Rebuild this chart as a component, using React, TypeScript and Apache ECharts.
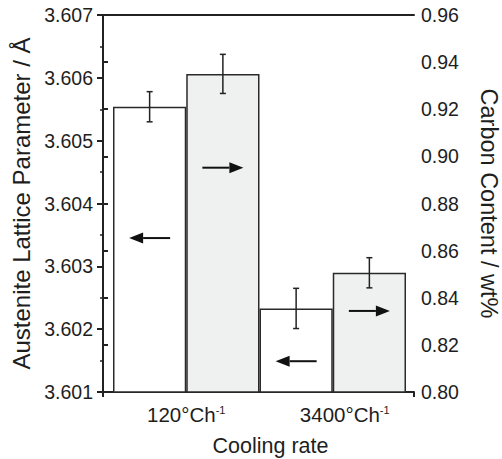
import React, { useEffect, useRef } from "react";
import * as echarts from "echarts";

// ---- data ----
const categories = ["120°Ch", "3400°Ch"];
const barSlots = ["120 lattice", "120 carbon", "3400 lattice", "3400 carbon"];
const latticeValues = [3.60554, 3.60233];
const latticeErrors = [0.00024, 0.00032];
const carbonValues = [0.935, 0.8506];
const carbonErrors = [0.0083, 0.0064];
const leftRange = [3.601, 3.607];
const leftInterval = 0.001;
const rightRange = [0.8, 0.96];
const rightInterval = 0.02;
// arrows: slot index, level (left-axis units), direction (-1 = left axis, 1 = right axis)
const arrowSlots = [0, 1, 2, 3];
const arrowLevels = [3.60345, 3.60457, 3.60149, 3.60229];
const arrowDirs = [-1, 1, -1, 1];

const FONT = "'Liberation Sans', Arial, Helvetica, sans-serif";
const TXT = "#1e1e1e";
const LINE = "#222";

export default function App() {
  const ref = useRef<HTMLDivElement>(null);
  useEffect(() => {
    if (!ref.current) return;
    const chart = echarts.init(ref.current, undefined, { renderer: "svg" });

    const latticeBar = barSlots.map((_, i) => (i % 2 === 0 ? latticeValues[i / 2] : "-"));
    const carbonBar = barSlots.map((_, i) => (i % 2 === 1 ? carbonValues[(i - 1) / 2] : "-"));

    const errorRender = (params: any, api: any) => {
      const x = api.value(0);
      const v = api.value(1);
      const e = api.value(2);
      const top = api.coord([x, v + e]);
      const bot = api.coord([x, v - e]);
      const w = 3;
      const st = { stroke: LINE, lineWidth: 1.5 };
      return {
        type: "group",
        children: [
          { type: "line", shape: { x1: top[0], y1: top[1], x2: bot[0], y2: bot[1] }, style: st },
          { type: "line", shape: { x1: top[0] - w, y1: top[1], x2: top[0] + w, y2: top[1] }, style: st },
          { type: "line", shape: { x1: bot[0] - w, y1: bot[1], x2: bot[0] + w, y2: bot[1] }, style: st },
        ],
      };
    };

    const arrowRender = (params: any, api: any) => {
      const slot = api.value(0);
      const level = api.value(1);
      const dir = api.value(2);
      const c = api.coord([slot, level]);
      const band = api.size([1, 0])[0];
      const half = (band * 0.56) / 2;
      const tip = c[0] + dir * half;
      const tail = c[0] - dir * half;
      const hb = tip - dir * 14;
      return {
        type: "group",
        children: [
          {
            type: "line",
            shape: { x1: tail, y1: c[1], x2: hb, y2: c[1] },
            style: { stroke: "#111", lineWidth: 2 },
          },
          {
            type: "polygon",
            shape: { points: [[tip, c[1]], [hb, c[1] - 5.5], [hb, c[1] + 5.5]] },
            style: { fill: "#111" },
          },
        ],
      };
    };

    const tickLabel = { color: TXT, fontFamily: FONT, fontSize: 19.5 };

    chart.setOption({
      animation: false,
      backgroundColor: "#fff",
      grid: [
        { left: 103, top: 15, width: 311, height: 377, containLabel: false, outerBoundsMode: "none" },
        { left: 113, top: 15, width: 293, height: 377, containLabel: false, outerBoundsMode: "none" },
      ],
      xAxis: [
        {
          gridIndex: 0,
          type: "value",
          min: 0,
          max: 1,
          interval: 1,
          position: "bottom",
          axisLine: { show: true, lineStyle: { color: LINE, width: 2 } },
          axisTick: { show: true, length: 5, lineStyle: { color: LINE, width: 2 } },
          axisLabel: { show: false },
          splitLine: { show: false },
          name: "Cooling rate",
          nameLocation: "middle",
          nameGap: 43,
          nameTextStyle: { color: TXT, fontFamily: FONT, fontSize: 21.5, padding: [0, 0, 0, 24] },
        },
        {
          gridIndex: 0,
          type: "value",
          min: 0,
          max: 1,
          position: "top",
          axisLine: { show: true, lineStyle: { color: LINE, width: 2 } },
          axisTick: { show: false },
          axisLabel: { show: false },
          splitLine: { show: false },
        },
        {
          gridIndex: 1,
          type: "category",
          data: barSlots,
          show: false,
        },
        {
          gridIndex: 1,
          type: "category",
          data: categories,
          position: "bottom",
          axisLine: { show: false },
          axisTick: { show: false },
          splitLine: { show: false },
          axisLabel: {
            interval: 0,
            margin: 12,
            hideOverlap: false,
            formatter: (value: string, index: number) =>
              (index === 1 ? "{gap|}" : "") + "{t|" + value + "}{s|-1}",
            rich: {
              t: { color: TXT, fontFamily: FONT, fontSize: 20.5 },
              s: { color: TXT, fontFamily: FONT, fontSize: 11, verticalAlign: "top", padding: [0, 0, 6, 0] },
              gap: { width: 24 },
            },
          },
        },
      ],
      yAxis: [
        {
          gridIndex: 0,
          type: "value",
          position: "left",
          min: leftRange[0],
          max: leftRange[1],
          interval: leftInterval,
          axisLine: { show: true, lineStyle: { color: LINE, width: 2 } },
          axisTick: { show: true, inside: false, length: 6, lineStyle: { color: LINE, width: 2 } },
          minorTick: { show: true, splitNumber: 2, length: 3, lineStyle: { color: LINE, width: 1.5 } },
          splitLine: { show: false },
          axisLabel: { ...tickLabel, margin: 10, formatter: (v: number) => v.toFixed(3) },
          name: "Austenite Lattice Parameter / Å",
          nameLocation: "middle",
          nameGap: 49,
          nameTextStyle: { color: TXT, fontFamily: FONT, fontSize: 24 },
        },
        {
          gridIndex: 0,
          type: "value",
          position: "right",
          min: rightRange[0],
          max: rightRange[1],
          interval: rightInterval,
          axisLine: { show: true, lineStyle: { color: LINE, width: 2 } },
          axisTick: { show: true, inside: false, length: 5, lineStyle: { color: LINE, width: 2 } },
          splitLine: { show: false },
          axisLabel: { ...tickLabel, margin: 7, formatter: (v: number) => v.toFixed(2) },
          name: "Carbon Content / wt%",
          nameLocation: "middle",
          nameRotate: -90,
          nameGap: 63,
          nameTextStyle: { color: TXT, fontFamily: FONT, fontSize: 23.5 },
        },
        { gridIndex: 1, type: "value", min: leftRange[0], max: leftRange[1], show: false, splitLine: { show: false } },
        { gridIndex: 1, type: "value", min: rightRange[0], max: rightRange[1], show: false, splitLine: { show: false } },
      ],
      series: [
        {
          name: "Lattice parameter",
          type: "bar",
          xAxisIndex: 2,
          yAxisIndex: 2,
          data: latticeBar,
          barGap: "-100%",
          barCategoryGap: "0%",
          itemStyle: { color: "#ffffff", borderColor: "#2a2a2a", borderWidth: 1.5 },
        },
        {
          name: "Carbon content",
          type: "bar",
          xAxisIndex: 2,
          yAxisIndex: 3,
          data: carbonBar,
          barGap: "-100%",
          barCategoryGap: "0%",
          itemStyle: { color: "#eff0f0", borderColor: "#2a2a2a", borderWidth: 1.5 },
        },
        {
          type: "custom",
          xAxisIndex: 2,
          yAxisIndex: 2,
          renderItem: errorRender,
          data: latticeValues.map((v, i) => [i * 2, v, latticeErrors[i]]),
          z: 5,
        },
        {
          type: "custom",
          xAxisIndex: 2,
          yAxisIndex: 3,
          renderItem: errorRender,
          data: carbonValues.map((v, i) => [i * 2 + 1, v, carbonErrors[i]]),
          z: 5,
        },
        {
          type: "custom",
          xAxisIndex: 2,
          yAxisIndex: 2,
          renderItem: arrowRender,
          data: arrowSlots.map((s, i) => [s, arrowLevels[i], arrowDirs[i]]),
          z: 5,
        },
      ],
    });
    return () => chart.dispose();
  }, []);
  return (
    <div
      ref={ref}
      style={{ position: "fixed", left: 0, top: 0, width: 502, height: 459, background: "#fff" }}
    />
  );
}
